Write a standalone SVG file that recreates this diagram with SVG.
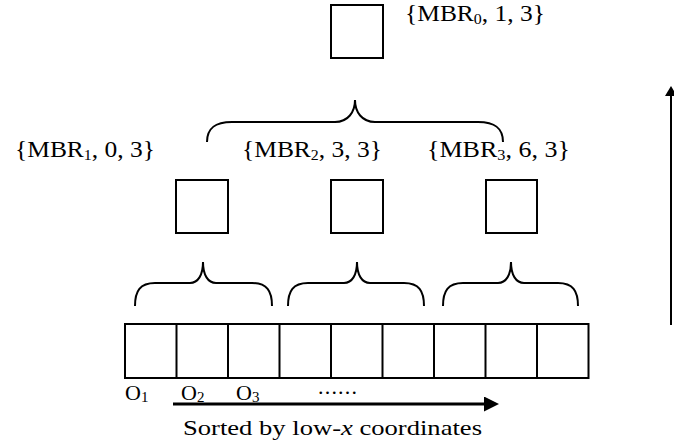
<svg xmlns="http://www.w3.org/2000/svg" width="674" height="445" viewBox="0 0 674 445">
  <style>
    .box { fill: #fff; stroke: #000; stroke-width: 2; }
    .brace { fill: none; stroke: #000; stroke-width: 2; }
    .lbl { font-family: "Liberation Serif", "Times New Roman", serif; font-size: 24px; fill: #000; }
    .small { font-family: "Liberation Serif", "Times New Roman", serif; font-size: 22px; fill: #000; }
    .sub { font-size: 15px; }
  </style>
  <defs>
    <marker id="headH" markerWidth="15" markerHeight="15" refX="7" refY="7.5" orient="auto" markerUnits="userSpaceOnUse">
      <path d="M0,0 L15,7.5 L0,15 Z" fill="#000"/>
    </marker>
    <marker id="headV" markerWidth="10" markerHeight="12" refX="4" refY="6" orient="auto" markerUnits="userSpaceOnUse">
      <path d="M0,0 L10,6 L0,12 Z" fill="#000"/>
    </marker>
  </defs>

  <!-- root node -->
  <g id="root">
    <rect class="box" x="331" y="5" width="52" height="53"/>
    <text class="lbl" x="405" y="21" textLength="140" lengthAdjust="spacingAndGlyphs">{MBR<tspan class="sub" dy="3">0</tspan><tspan dy="-3">, 1, 3}</tspan></text>
  </g>

  <!-- second level nodes -->
  <g id="mbr1">
    <rect class="box" x="176" y="180" width="52" height="53"/>
    <text class="lbl" x="15" y="157" textLength="140" lengthAdjust="spacingAndGlyphs">{MBR<tspan class="sub" dy="3">1</tspan><tspan dy="-3">, 0, 3}</tspan></text>
  </g>
  <g id="mbr2">
    <rect class="box" x="331" y="180" width="52" height="53"/>
    <text class="lbl" x="242" y="157" textLength="140" lengthAdjust="spacingAndGlyphs">{MBR<tspan class="sub" dy="3">2</tspan><tspan dy="-3">, 3, 3}</tspan></text>
  </g>
  <g id="mbr3">
    <rect class="box" x="486" y="180" width="51" height="53"/>
    <text class="lbl" x="427" y="157" textLength="143" lengthAdjust="spacingAndGlyphs">{MBR<tspan class="sub" dy="3">3</tspan><tspan dy="-3">, 6, 3}</tspan></text>
  </g>

  <!-- leaf array of objects -->
  <g id="objects">
    <rect class="box" x="125" y="324" width="463.5" height="54"/>
    <path class="brace" d="M176.5,324V378 M228,324V378 M279.5,324V378 M331,324V378 M382.5,324V378 M434,324V378 M485.5,324V378 M537,324V378"/>
    <text class="small" x="125" y="400">O<tspan class="sub" dy="2">1</tspan></text>
    <text class="small" x="181" y="400">O<tspan class="sub" dy="2">2</tspan></text>
    <text class="small" x="236" y="400">O<tspan class="sub" dy="2">3</tspan></text>
    <text class="small" x="318" y="394" textLength="39" lengthAdjust="spacing">......</text>
  </g>

  <!-- connectors: grouping braces and direction arrows -->
  <g id="connectors">
    <path class="brace" d="M207,142 C207,128 215,122 232,122 L335,122 C348,122 355,112 355,100 C355,112 362,122 375,122 L478,122 C495,122 503,128 503,142"/>
    <path class="brace" d="M135,306 C135,291 140,283 155,283 L190,283 C198,283 203,275 203,262 C203,275 208,283 216,283 L252,283 C267,283 272,291 272,306"/>
    <path class="brace" d="M288,306 C288,291 293,283 308,283 L344,283 C352,283 357,275 357,262 C357,275 362,283 370,283 L404,283 C419,283 424,291 424,306"/>
    <path class="brace" d="M443,306 C443,291 448,283 463,283 L498,283 C506,283 511,275 511,262 C511,275 516,283 524,283 L558,283 C573,283 578,291 578,306"/>
    <line x1="173" y1="404" x2="491" y2="404" stroke="#000" stroke-width="3" marker-end="url(#headH)"/>
    <line x1="671" y1="325" x2="671" y2="92" stroke="#000" stroke-width="2" marker-end="url(#headV)"/>
  </g>

  <text class="small" x="183" y="435" textLength="299" lengthAdjust="spacingAndGlyphs">Sorted by low-<tspan font-style="italic">x</tspan> coordinates</text>
</svg>
